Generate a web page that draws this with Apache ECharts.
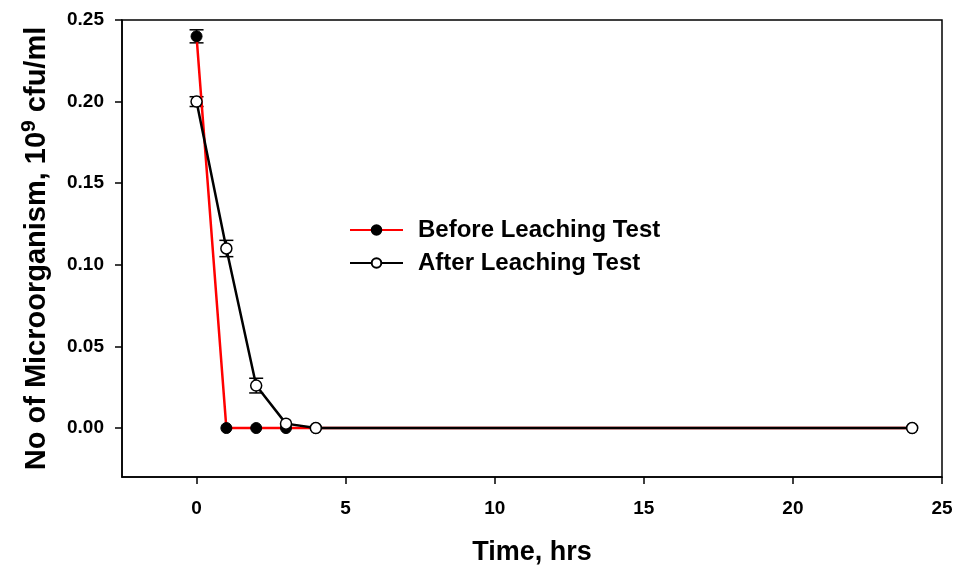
<!DOCTYPE html>
<html>
<head>
<meta charset="utf-8">
<script src="https://cdn.jsdelivr.net/npm/echarts@6/dist/echarts.min.js"></script>
<style>
  html, body { margin: 0; padding: 0; background: #fff; }
  #chart { width: 955px; height: 565px; }
</style>
</head>
<body>
<div id="chart"></div>
<script>
// Microorganism count over time, before and after the leaching test
const beforeHours = [0, 1, 2, 3, 4, 24];
const beforeValues = [0.240, 0, 0, 0, 0, 0];
const beforeErrors = [0.004, 0, 0, 0, 0, 0];

const afterHours = [0, 1, 2, 3, 4, 24];
const afterValues = [0.200, 0.110, 0.026, 0.0027, 0, 0];
const afterErrors = [0.003, 0.005, 0.0045, 0, 0, 0];

const xTicks = [0, 5, 10, 15, 20, 25];
const yTicks = [0, 0.05, 0.10, 0.15, 0.20, 0.25];

const FONT = '"Liberation Sans", Arial, sans-serif';

function pairs(xs, ys) { return xs.map((x, i) => [x, ys[i]]); }
function errRows(xs, ys, es) {
  return xs.map((x, i) => [x, ys[i] - es[i], ys[i] + es[i]]).filter((r, i) => es[i] > 0);
}

// Error bars: vertical stem with short horizontal caps
function renderError(params, api) {
  const x = api.value(0);
  const lo = api.coord([x, api.value(1)]);
  const hi = api.coord([x, api.value(2)]);
  const half = 7;
  const style = { stroke: '#000', lineWidth: 1.5 };
  return {
    type: 'group',
    children: [
      { type: 'line', shape: { x1: lo[0], y1: lo[1], x2: hi[0], y2: hi[1] }, style },
      { type: 'line', shape: { x1: lo[0] - half, y1: lo[1], x2: lo[0] + half, y2: lo[1] }, style },
      { type: 'line', shape: { x1: hi[0] - half, y1: hi[1], x2: hi[0] + half, y2: hi[1] }, style }
    ]
  };
}

const chart = echarts.init(document.getElementById('chart'));
chart.setOption({
  animation: false,
  backgroundColor: '#fff',
  textStyle: { fontFamily: FONT },
  grid: {
    left: 122, right: 13, top: 20, bottom: 88,
    outerBoundsMode: 'none',
    containLabel: false,
    show: true, borderColor: '#000', borderWidth: 1.5
  },
  legend: {
    orient: 'vertical',
    left: 349, top: 218, padding: 0,
    itemWidth: 53, itemHeight: 12, itemGap: 9,
    data: ['Before Leaching Test', 'After Leaching Test'],
    textStyle: { fontSize: 24, fontWeight: 'bold', color: '#000', fontFamily: FONT, padding: [0, 0, 0, 10] }
  },
  xAxis: {
    type: 'value',
    min: -2.5, max: 25,
    name: 'Time, hrs',
    nameLocation: 'middle',
    nameGap: 62,
    nameTextStyle: { fontSize: 27, fontWeight: 'bold', color: '#000', fontFamily: FONT },
    axisLine: { onZero: false, lineStyle: { color: '#000', width: 1.5 } },
    axisTick: { inside: false, length: 7, lineStyle: { color: '#000', width: 1.5 }, customValues: xTicks },
    axisLabel: { customValues: xTicks, margin: 22, fontSize: 19, fontWeight: 'bold', color: '#000', fontFamily: FONT },
    splitLine: { show: false }
  },
  yAxis: {
    type: 'value',
    min: -0.03, max: 0.25,
    name: 'No of Microorganism, 10{sup|9} cfu/ml',
    nameLocation: 'middle',
    nameRotate: 90,
    nameGap: 68,
    nameTextStyle: {
      fontSize: 29, fontWeight: 'bold', color: '#000', fontFamily: FONT,
      rich: {
        sup: { fontSize: 21, fontWeight: 'bold', color: '#000', fontFamily: FONT, padding: [0, 0, 14, 0] }
      }
    },
    axisLine: { onZero: false, lineStyle: { color: '#000', width: 1.5 } },
    axisTick: { inside: false, length: 7, lineStyle: { color: '#000', width: 1.5 }, customValues: yTicks },
    axisLabel: {
      customValues: yTicks, margin: 18, fontSize: 19, fontWeight: 'bold', color: '#000', fontFamily: FONT,
      formatter: v => v.toFixed(2)
    },
    splitLine: { show: false }
  },
  series: [
    {
      type: 'custom',
      name: 'errBefore',
      renderItem: renderError,
      data: errRows(beforeHours, beforeValues, beforeErrors),
      encode: { x: 0, y: [1, 2] },
      z: 1, silent: true
    },
    {
      type: 'custom',
      name: 'errAfter',
      renderItem: renderError,
      data: errRows(afterHours, afterValues, afterErrors),
      encode: { x: 0, y: [1, 2] },
      z: 1, silent: true
    },
    {
      name: 'Before Leaching Test',
      type: 'line',
      data: pairs(beforeHours, beforeValues),
      symbol: 'circle', symbolSize: 11,
      lineStyle: { color: '#ff0000', width: 2.5 },
      itemStyle: { color: '#000', borderColor: '#000', borderWidth: 1 },
      z: 2
    },
    {
      name: 'After Leaching Test',
      type: 'line',
      data: pairs(afterHours, afterValues),
      symbol: 'circle', symbolSize: 11,
      lineStyle: { color: '#000', width: 2.5 },
      itemStyle: { color: '#fff', borderColor: '#000', borderWidth: 1.5 },
      z: 3
    }
  ]
});
</script>
</body>
</html>
